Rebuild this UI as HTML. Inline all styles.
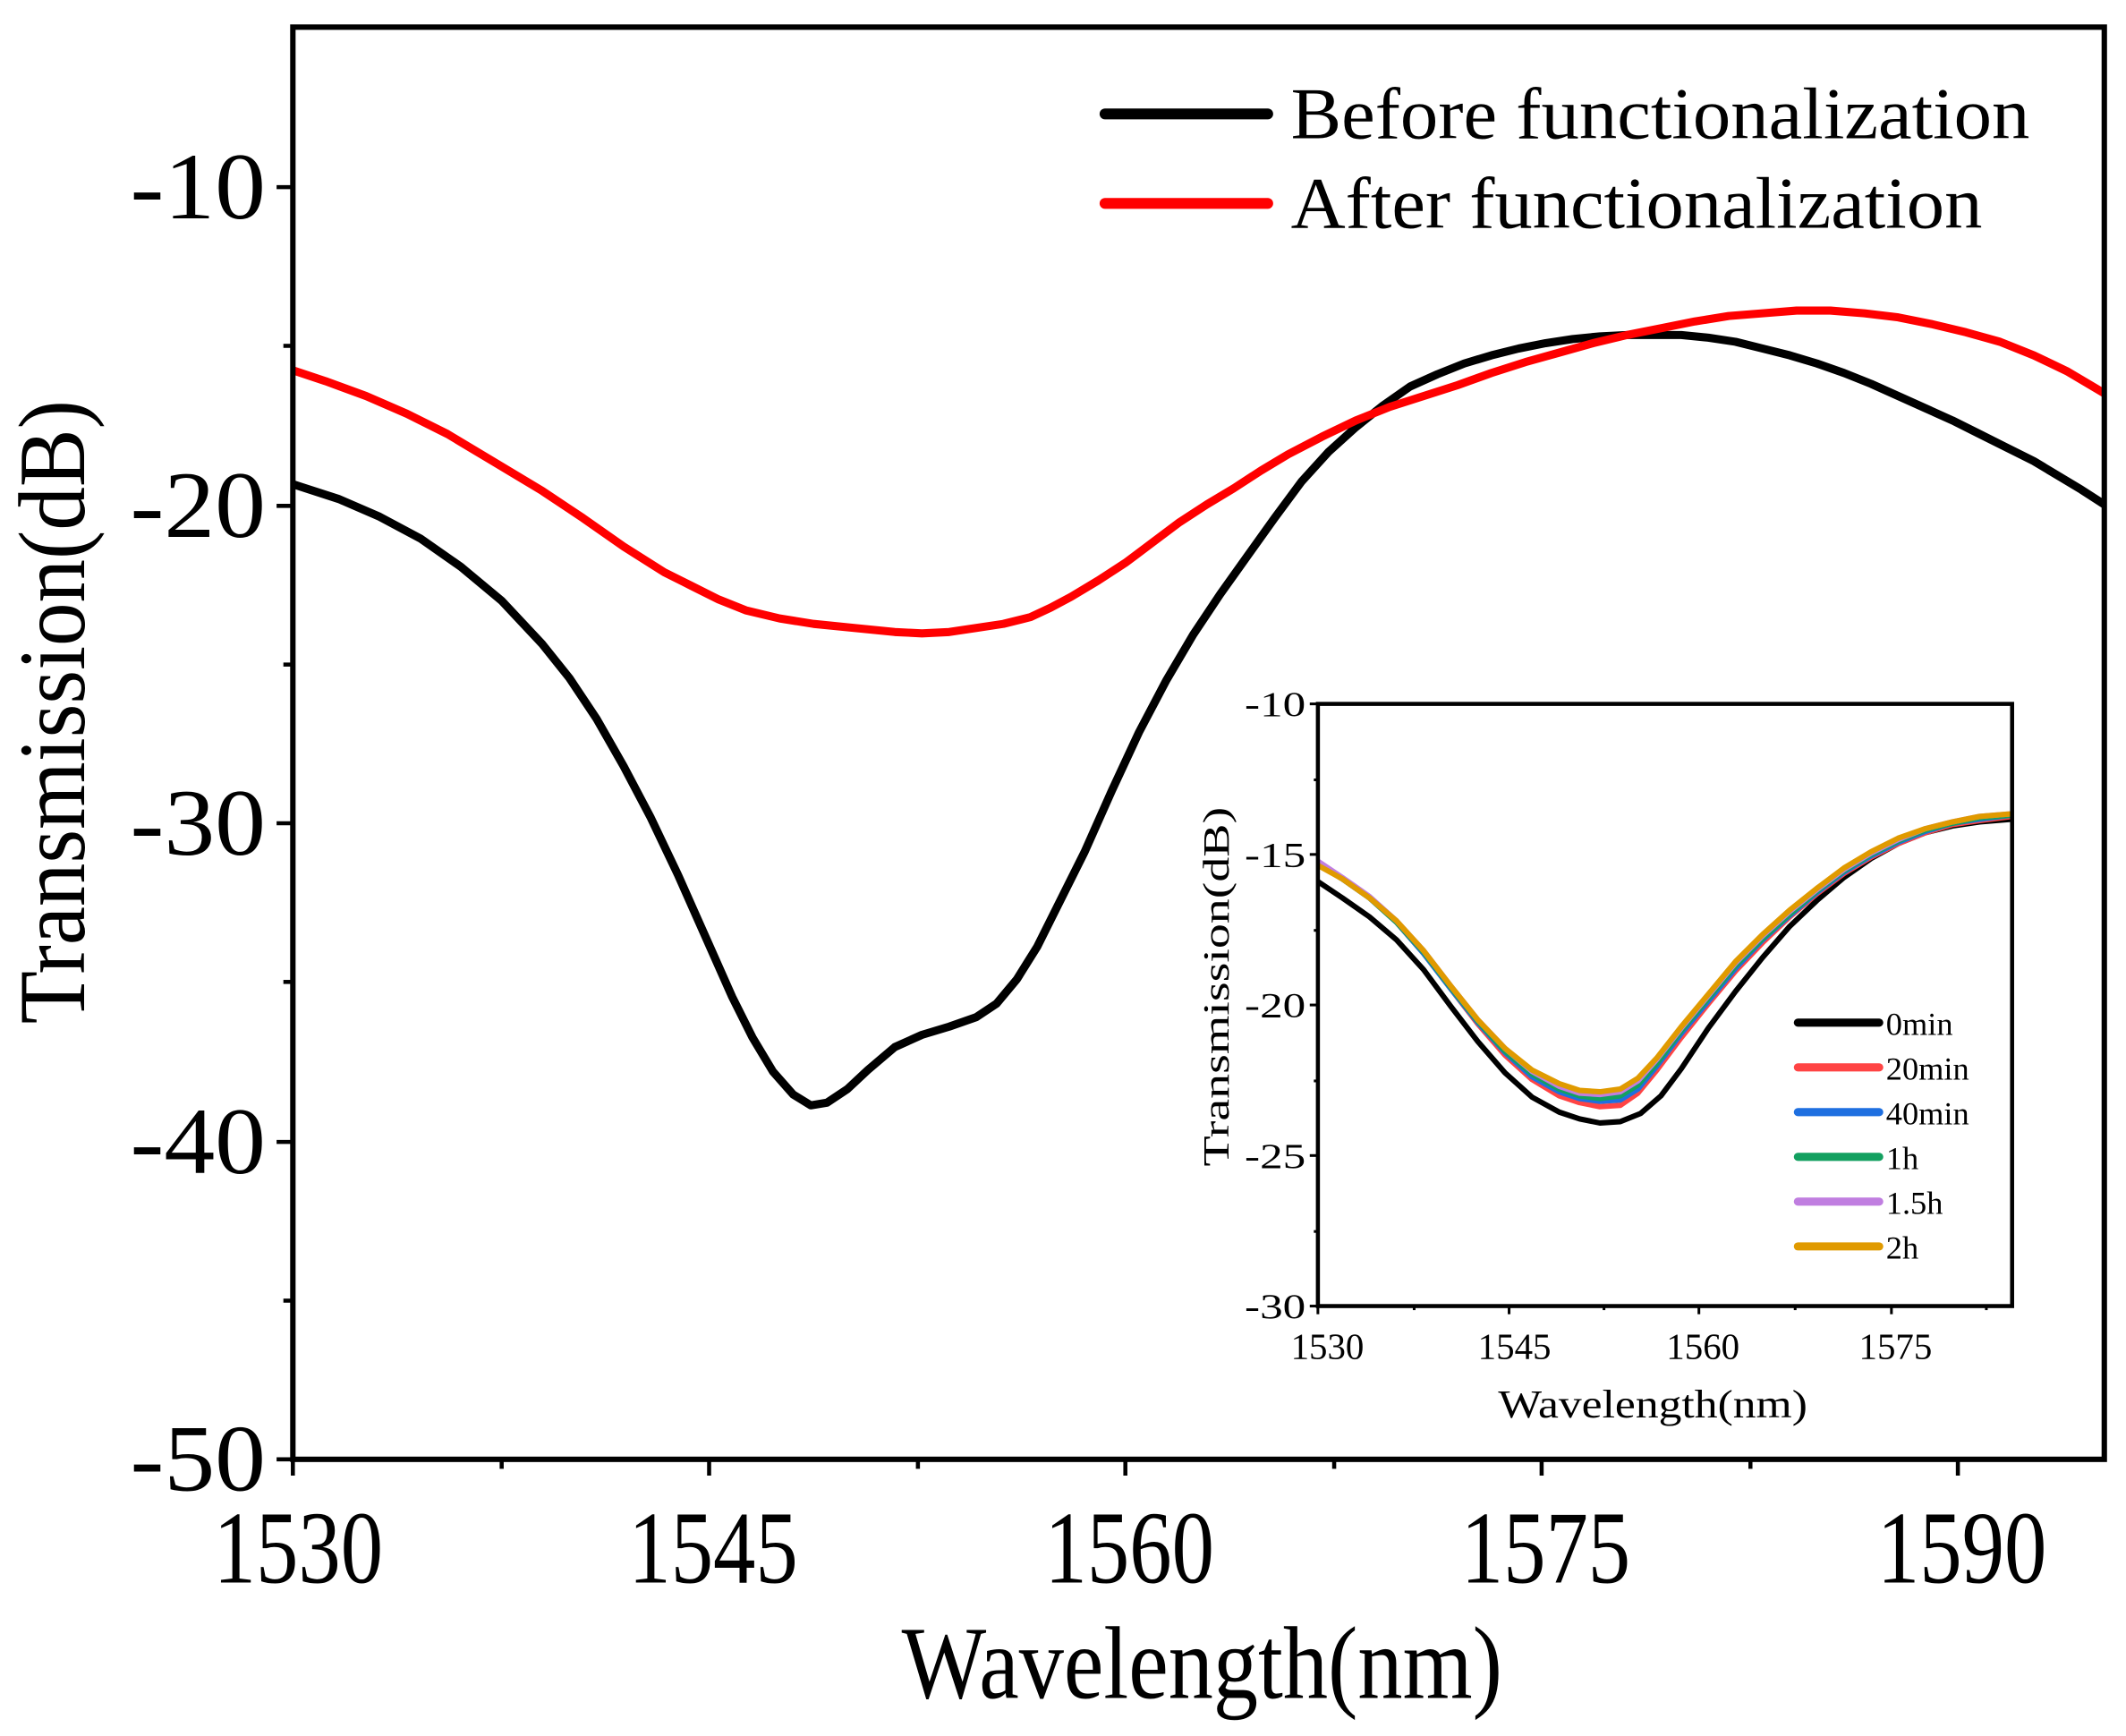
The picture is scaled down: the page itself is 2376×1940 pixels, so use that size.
<!DOCTYPE html>
<html><head><meta charset="utf-8"><style>html,body{margin:0;padding:0;background:#fff}svg{display:block}</style></head>
<body>
<svg width="2376" height="1940" viewBox="0 0 1568 1280" preserveAspectRatio="none" xmlns="http://www.w3.org/2000/svg" font-family="Liberation Serif, serif">
<rect width="1568" height="1280" fill="#fff"/>
<clipPath id="c1"><rect x="216" y="20" width="1336" height="1056"/></clipPath>
<g clip-path="url(#c1)" fill="none" stroke-width="6" stroke-linejoin="round" stroke-linecap="round">
<polyline stroke="#000" points="216,357 250,368 280,381 310,397 340,418 370,443 400,475 420,500 440,530 460,565 480,603 500,645 520,690 540,735 555,765 570,790 585,807 598,815 610,813 625,803 640,789 660,772 680,763 700,757 720,750 735,740 750,722 765,698 780,668 800,628 820,583 840,540 860,502 880,468 900,438 920,410 940,382 960,355 980,333 1000,315 1020,299 1040,285 1060,276 1080,268 1100,262 1120,257 1140,253 1160,250 1180,248 1200,247 1220,247 1240,247 1260,249 1280,252 1300,257 1320,262 1340,268 1360,275 1380,283 1400,292 1420,301 1440,310 1460,320 1480,330 1500,340 1520,352 1535,361 1552,372"/>
<polyline stroke="#f00" points="216,273 240,281 270,292 300,305 330,320 360,338 400,362 430,382 460,403 490,422 510,432 530,442 550,450 575,456 600,460 630,463 660,466 680,467 700,466 720,463 740,460 760,455 775,448 790,440 810,428 830,415 850,400 870,385 890,372 910,360 930,347 950,335 975,322 1000,310 1025,300 1050,292 1075,284 1100,275 1125,267 1150,260 1175,253 1200,247 1225,242 1250,237 1275,233 1300,231 1325,229 1350,229 1375,231 1400,234 1425,239 1450,245 1475,252 1500,262 1525,274 1552,290"/>
</g>
<rect x="216" y="20" width="1336" height="1056" fill="none" stroke="#000" stroke-width="4"/>
<g stroke="#000" stroke-width="3">
<line x1="204" y1="138" x2="216" y2="138"/><line x1="204" y1="373" x2="216" y2="373"/><line x1="204" y1="607" x2="216" y2="607"/><line x1="204" y1="842" x2="216" y2="842"/><line x1="204" y1="1076" x2="216" y2="1076"/>
<line x1="209" y1="255" x2="216" y2="255"/><line x1="209" y1="490" x2="216" y2="490"/><line x1="209" y1="724" x2="216" y2="724"/><line x1="209" y1="959" x2="216" y2="959"/>
<line x1="216" y1="1076" x2="216" y2="1088"/><line x1="523" y1="1076" x2="523" y2="1088"/><line x1="830" y1="1076" x2="830" y2="1088"/><line x1="1137" y1="1076" x2="1137" y2="1088"/><line x1="1444" y1="1076" x2="1444" y2="1088"/>
<line x1="370" y1="1076" x2="370" y2="1083"/><line x1="677" y1="1076" x2="677" y2="1083"/><line x1="984" y1="1076" x2="984" y2="1083"/><line x1="1291" y1="1076" x2="1291" y2="1083"/>
</g>
<g font-size="70" text-anchor="end">
<text x="196" y="161" textLength="100" lengthAdjust="spacingAndGlyphs">-10</text>
<text x="196" y="396" textLength="100" lengthAdjust="spacingAndGlyphs">-20</text>
<text x="196" y="630" textLength="100" lengthAdjust="spacingAndGlyphs">-30</text>
<text x="196" y="865" textLength="100" lengthAdjust="spacingAndGlyphs">-40</text>
<text x="196" y="1099" textLength="100" lengthAdjust="spacingAndGlyphs">-50</text>
</g>
<g font-size="76" text-anchor="middle">
<text x="220" y="1167" textLength="125" lengthAdjust="spacingAndGlyphs">1530</text>
<text x="526" y="1167" textLength="125" lengthAdjust="spacingAndGlyphs">1545</text>
<text x="833" y="1167" textLength="125" lengthAdjust="spacingAndGlyphs">1560</text>
<text x="1140" y="1167" textLength="125" lengthAdjust="spacingAndGlyphs">1575</text>
<text x="1447" y="1167" textLength="125" lengthAdjust="spacingAndGlyphs">1590</text>
</g>
<text x="665" y="1252" font-size="76" textLength="443" lengthAdjust="spacingAndGlyphs">Wavelength(nm)</text>
<text transform="translate(62,755) rotate(-90)" font-size="70" textLength="460" lengthAdjust="spacingAndGlyphs">Transmission(dB)</text>
<line x1="815" y1="84" x2="935" y2="84" stroke="#000" stroke-width="8" stroke-linecap="round"/>
<line x1="815" y1="150" x2="935" y2="150" stroke="#f00" stroke-width="8" stroke-linecap="round"/>
<text x="952" y="102" font-size="54" textLength="545" lengthAdjust="spacingAndGlyphs">Before functionalization</text>
<text x="952" y="168" font-size="54" textLength="510" lengthAdjust="spacingAndGlyphs">After functionalization</text>
<rect x="972" y="519" width="512" height="444" fill="#fff"/>
<clipPath id="c2"><rect x="972" y="519" width="512" height="444"/></clipPath>
<g clip-path="url(#c2)" fill="none" stroke-width="4" stroke-linejoin="round">
<polyline stroke="#000" points="972,650 990,662 1010,676 1030,693 1050,715 1070,742 1090,768 1110,791 1130,809 1150,820 1165,825 1180,828 1195,827 1210,821 1225,808 1240,788 1260,758 1280,731 1300,706 1320,683 1340,664 1360,647 1380,633 1400,622 1420,614 1440,609 1460,606 1484,604"/>
<polyline stroke="#f44" points="972,637 990,648 1010,662 1030,680 1050,703 1070,729 1090,755 1110,778 1130,796 1150,808 1165,813 1180,816 1195,815 1208,806 1222,789 1240,765 1260,740 1280,716 1300,695 1320,676 1340,659 1360,644 1380,632 1400,622 1420,614 1440,608 1460,605 1484,602"/>
<polyline stroke="#1e6fe0" points="972,637 990,648 1010,662 1030,680 1050,703 1070,729 1090,754 1110,776 1130,794 1150,805 1165,810 1180,812 1195,811 1208,803 1222,786 1240,762 1260,738 1280,714 1300,693 1320,675 1340,658 1360,643 1380,631 1400,621 1420,613 1440,607 1460,604 1484,601"/>
<polyline stroke="#13a060" points="972,637 990,648 1010,662 1030,680 1050,702 1070,728 1090,753 1110,775 1130,792 1150,803 1165,808 1180,810 1195,808 1208,800 1222,784 1240,760 1260,736 1280,712 1300,692 1320,674 1340,657 1360,642 1380,630 1400,620 1420,612 1440,607 1460,603 1484,601"/>
<polyline stroke="#c07ee0" points="972,635 990,647 1010,661 1030,679 1050,701 1070,727 1090,752 1110,773 1130,790 1150,801 1165,806 1180,807 1195,805 1208,797 1222,781 1240,758 1260,734 1280,710 1300,690 1320,672 1340,656 1360,641 1380,629 1400,619 1420,611 1440,606 1460,602 1484,600"/>
<polyline stroke="#e09a00" points="972,638 990,648 1010,662 1030,679 1050,701 1070,727 1090,752 1110,773 1130,789 1150,799 1165,804 1180,805 1195,803 1208,795 1222,780 1240,757 1260,733 1280,709 1300,689 1320,671 1340,655 1360,640 1380,628 1400,618 1420,611 1440,606 1460,602 1484,600"/>
</g>
<rect x="972" y="519" width="512" height="444" fill="none" stroke="#000" stroke-width="3"/>
<g stroke="#000" stroke-width="2">
<line x1="966" y1="519" x2="972" y2="519"/><line x1="966" y1="630" x2="972" y2="630"/><line x1="966" y1="741" x2="972" y2="741"/><line x1="966" y1="852" x2="972" y2="852"/><line x1="966" y1="963" x2="972" y2="963"/>
<line x1="969" y1="575" x2="972" y2="575"/><line x1="969" y1="686" x2="972" y2="686"/><line x1="969" y1="797" x2="972" y2="797"/><line x1="969" y1="908" x2="972" y2="908"/>
<line x1="972" y1="963" x2="972" y2="969"/><line x1="1113" y1="963" x2="1113" y2="969"/><line x1="1253" y1="963" x2="1253" y2="969"/><line x1="1395" y1="963" x2="1395" y2="969"/>
<line x1="1043" y1="963" x2="1043" y2="966"/><line x1="1183" y1="963" x2="1183" y2="966"/><line x1="1324" y1="963" x2="1324" y2="966"/><line x1="1465" y1="963" x2="1465" y2="966"/>
</g>
<g font-size="26" text-anchor="end">
<text x="963" y="528" textLength="45" lengthAdjust="spacingAndGlyphs">-10</text><text x="963" y="639" textLength="45" lengthAdjust="spacingAndGlyphs">-15</text><text x="963" y="750" textLength="45" lengthAdjust="spacingAndGlyphs">-20</text><text x="963" y="861" textLength="45" lengthAdjust="spacingAndGlyphs">-25</text><text x="963" y="972" textLength="45" lengthAdjust="spacingAndGlyphs">-30</text>
</g>
<g font-size="27" text-anchor="middle">
<text x="979" y="1002" textLength="54" lengthAdjust="spacingAndGlyphs">1530</text><text x="1117" y="1002" textLength="54" lengthAdjust="spacingAndGlyphs">1545</text><text x="1256" y="1002" textLength="54" lengthAdjust="spacingAndGlyphs">1560</text><text x="1398" y="1002" textLength="54" lengthAdjust="spacingAndGlyphs">1575</text>
</g>
<text x="1105" y="1045" font-size="29" textLength="228" lengthAdjust="spacingAndGlyphs">Wavelength(nm)</text>
<text transform="translate(906,860) rotate(-90)" font-size="27" textLength="265" lengthAdjust="spacingAndGlyphs">Transmission(dB)</text>
<g stroke-width="6" stroke-linecap="round">
<line x1="1326" y1="754" x2="1386" y2="754" stroke="#000"/>
<line x1="1326" y1="787" x2="1386" y2="787" stroke="#f44"/>
<line x1="1326" y1="820" x2="1386" y2="820" stroke="#1e6fe0"/>
<line x1="1326" y1="853" x2="1386" y2="853" stroke="#13a060"/>
<line x1="1326" y1="886" x2="1386" y2="886" stroke="#c07ee0"/>
<line x1="1326" y1="919" x2="1386" y2="919" stroke="#e09a00"/>
</g>
<g font-size="24">
<text x="1391" y="763">0min</text><text x="1391" y="796">20min</text><text x="1391" y="829">40min</text><text x="1391" y="862">1h</text><text x="1391" y="895">1.5h</text><text x="1391" y="928">2h</text>
</g>
</svg>
</body></html>
